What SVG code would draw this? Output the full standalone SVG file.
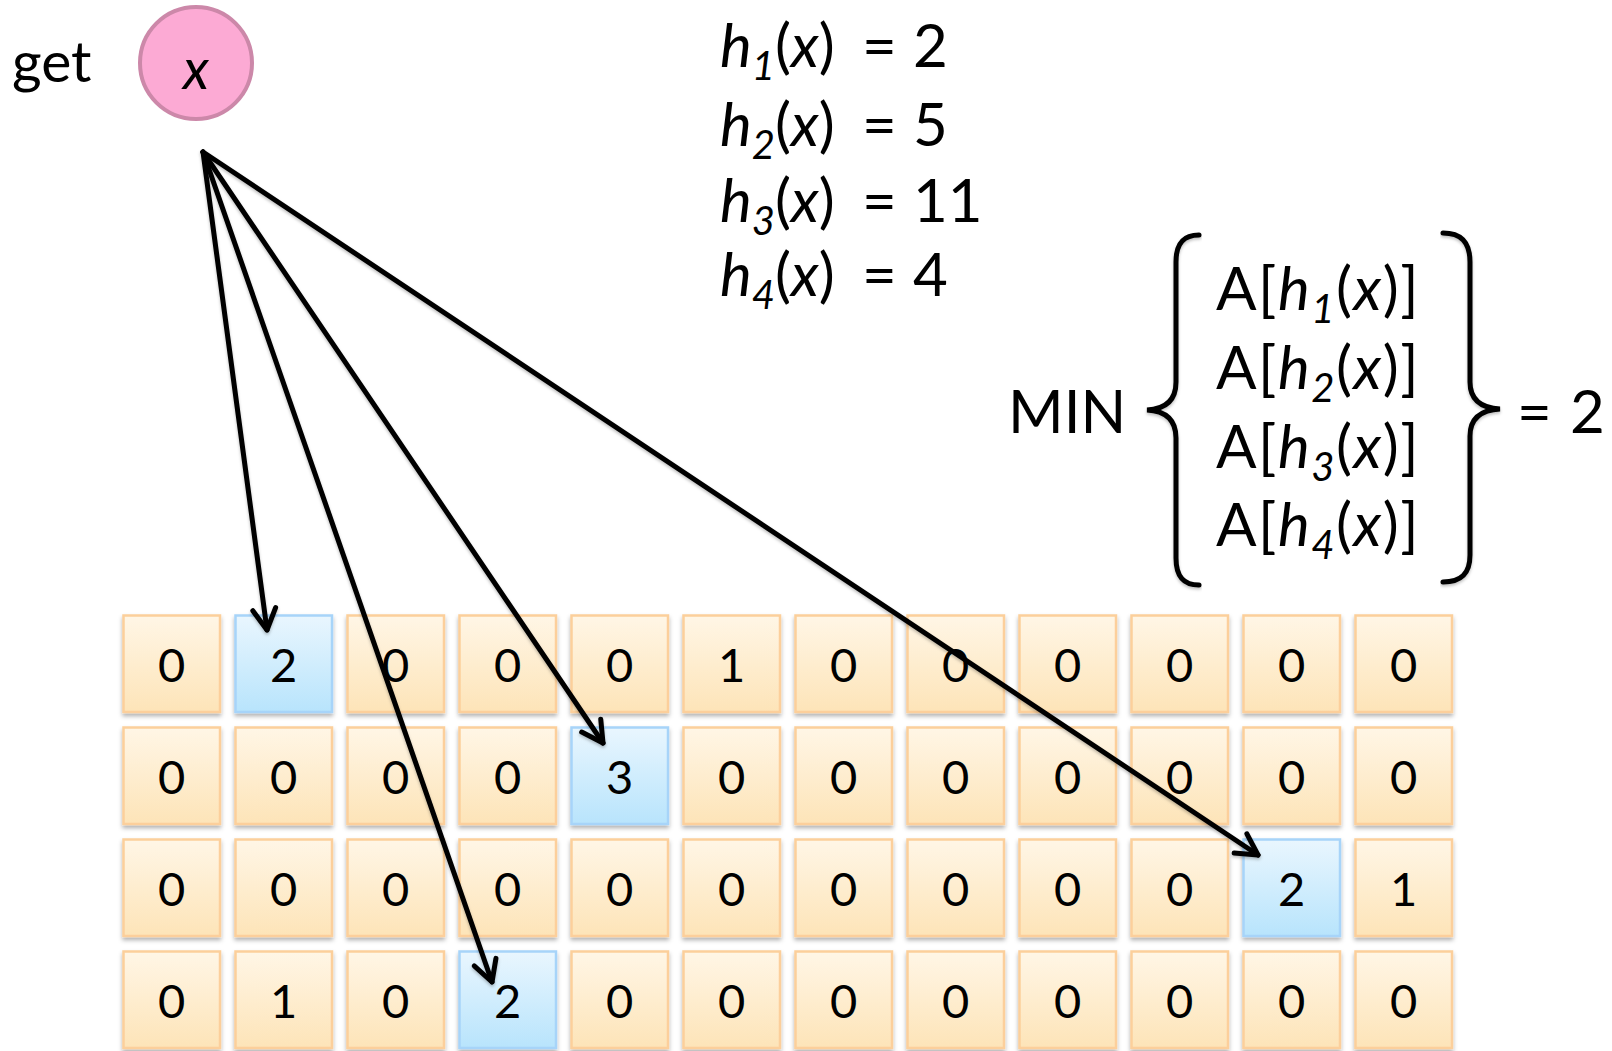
<svg xmlns="http://www.w3.org/2000/svg" width="1612" height="1051" viewBox="0 0 1612 1051">
<defs>
<linearGradient id="gOr" x1="0" y1="0" x2="0" y2="1"><stop offset="0" stop-color="#fff6e6"/><stop offset="1" stop-color="#fde4b8"/></linearGradient>
<linearGradient id="gBl" x1="0" y1="0" x2="0" y2="1"><stop offset="0" stop-color="#e9f6fe"/><stop offset="1" stop-color="#b8e4fc"/></linearGradient>
<filter id="sh" x="-20%" y="-20%" width="140%" height="150%"><feDropShadow dx="0" dy="3" stdDeviation="2" flood-color="#000" flood-opacity="0.3"/></filter>
<filter id="lsh" x="-5%" y="-5%" width="110%" height="110%"><feDropShadow dx="0" dy="2" stdDeviation="1.5" flood-color="#000" flood-opacity="0.25"/></filter>
<marker id="ah" markerUnits="userSpaceOnUse" markerWidth="40" markerHeight="40" viewBox="-30 -20 40 40" refX="0" refY="0" orient="auto" overflow="visible">
<path d="M-21,-11.5 L0,0 L-21,11.5" fill="none" stroke="#000" stroke-width="5" stroke-linecap="round" stroke-linejoin="round"/>
</marker>
</defs>
<style>
text{font-family:Lato,"Open Sans","Liberation Sans",sans-serif;fill:#000}
.cell{stroke-width:2.5;filter:url(#sh)}
.or{fill:url(#gOr);stroke:#fccf9b}
.bl{fill:url(#gBl);stroke:#a7d4f9}
.d{font-size:47px;text-anchor:middle}
.eq{font-size:60px}
.al{letter-spacing:1.5px}
.it{font-style:italic}
.sub{font-size:40px;font-style:italic}
.conn line{stroke:#000;stroke-width:5;stroke-linecap:round;marker-end:url(#ah)}
.brace{fill:none;stroke:#000;stroke-width:5;stroke-linecap:round;filter:url(#lsh)}
</style>
<rect width="1612" height="1051" fill="#fff"/>

<g id="get-label"><text x="12" y="82" style="font-size:57px">get</text></g>
<g id="node-x">
<circle cx="196" cy="63" r="56" fill="#fcaad4" stroke="#cc88a9" stroke-width="4"/>
<text x="196" y="89" class="it" style="font-size:56px" text-anchor="middle">x</text>
</g>

<g id="hash-values">
<text x="720" y="67" class="eq"><tspan class="it">h</tspan><tspan class="sub" dy="13">1</tspan><tspan dy="-13">(</tspan><tspan class="it">x</tspan>)<tspan x="862">=</tspan><tspan x="913">2</tspan></text>
<text x="720" y="146" class="eq"><tspan class="it">h</tspan><tspan class="sub" dy="13">2</tspan><tspan dy="-13">(</tspan><tspan class="it">x</tspan>)<tspan x="862">=</tspan><tspan x="913">5</tspan></text>
<text x="720" y="222" class="eq"><tspan class="it">h</tspan><tspan class="sub" dy="13">3</tspan><tspan dy="-13">(</tspan><tspan class="it">x</tspan>)<tspan x="862">=</tspan><tspan x="913">11</tspan></text>
<text x="720" y="296" class="eq"><tspan class="it">h</tspan><tspan class="sub" dy="13">4</tspan><tspan dy="-13">(</tspan><tspan class="it">x</tspan>)<tspan x="862">=</tspan><tspan x="913">4</tspan></text>
</g>

<g id="min-expr">
<text x="1008" y="433" class="eq">MIN</text>
<path class="brace" d="M1199,235 C1184,235 1176,243 1176,262 L1176,382 C1176,400 1166,409 1147,410 C1166,411 1176,420 1176,438 L1176,558 C1176,577 1184,585 1199,585"/>
<path class="brace" d="M1443,233 C1461,233 1470,242 1470,262 L1470,382 C1470,400 1481,408 1500,409 C1481,410 1470,418 1470,436 L1470,555 C1470,574 1461,582 1443,582"/>
<text x="1216" y="310" class="eq al">A[<tspan class="it">h</tspan><tspan class="sub" dy="13">1</tspan><tspan dy="-13">(</tspan><tspan class="it">x</tspan>)]</text>
<text x="1216" y="389" class="eq al">A[<tspan class="it">h</tspan><tspan class="sub" dy="13">2</tspan><tspan dy="-13">(</tspan><tspan class="it">x</tspan>)]</text>
<text x="1216" y="468" class="eq al">A[<tspan class="it">h</tspan><tspan class="sub" dy="13">3</tspan><tspan dy="-13">(</tspan><tspan class="it">x</tspan>)]</text>
<text x="1216" y="546" class="eq al">A[<tspan class="it">h</tspan><tspan class="sub" dy="13">4</tspan><tspan dy="-13">(</tspan><tspan class="it">x</tspan>)]</text>
<text x="1517" y="433" class="eq">=<tspan x="1570">2</tspan></text>
</g>

<g id="array">
<g id="row0">
<g id="c0-0"><rect class="cell or" x="123.5" y="615.5" width="96.5" height="96.5"/><text class="d" x="171.75" y="682">0</text></g>
<g id="c0-1"><rect class="cell bl" x="235.5" y="615.5" width="96.5" height="96.5"/><text class="d" x="283.75" y="682">2</text></g>
<g id="c0-2"><rect class="cell or" x="347.5" y="615.5" width="96.5" height="96.5"/><text class="d" x="395.75" y="682">0</text></g>
<g id="c0-3"><rect class="cell or" x="459.5" y="615.5" width="96.5" height="96.5"/><text class="d" x="507.75" y="682">0</text></g>
<g id="c0-4"><rect class="cell or" x="571.5" y="615.5" width="96.5" height="96.5"/><text class="d" x="619.75" y="682">0</text></g>
<g id="c0-5"><rect class="cell or" x="683.5" y="615.5" width="96.5" height="96.5"/><text class="d" x="731.75" y="682">1</text></g>
<g id="c0-6"><rect class="cell or" x="795.5" y="615.5" width="96.5" height="96.5"/><text class="d" x="843.75" y="682">0</text></g>
<g id="c0-7"><rect class="cell or" x="907.5" y="615.5" width="96.5" height="96.5"/><text class="d" x="955.75" y="682">0</text></g>
<g id="c0-8"><rect class="cell or" x="1019.5" y="615.5" width="96.5" height="96.5"/><text class="d" x="1067.75" y="682">0</text></g>
<g id="c0-9"><rect class="cell or" x="1131.5" y="615.5" width="96.5" height="96.5"/><text class="d" x="1179.75" y="682">0</text></g>
<g id="c0-10"><rect class="cell or" x="1243.5" y="615.5" width="96.5" height="96.5"/><text class="d" x="1291.75" y="682">0</text></g>
<g id="c0-11"><rect class="cell or" x="1355.5" y="615.5" width="96.5" height="96.5"/><text class="d" x="1403.75" y="682">0</text></g>
</g>
<g id="row1">
<g id="c1-0"><rect class="cell or" x="123.5" y="727.5" width="96.5" height="96.5"/><text class="d" x="171.75" y="794">0</text></g>
<g id="c1-1"><rect class="cell or" x="235.5" y="727.5" width="96.5" height="96.5"/><text class="d" x="283.75" y="794">0</text></g>
<g id="c1-2"><rect class="cell or" x="347.5" y="727.5" width="96.5" height="96.5"/><text class="d" x="395.75" y="794">0</text></g>
<g id="c1-3"><rect class="cell or" x="459.5" y="727.5" width="96.5" height="96.5"/><text class="d" x="507.75" y="794">0</text></g>
<g id="c1-4"><rect class="cell bl" x="571.5" y="727.5" width="96.5" height="96.5"/><text class="d" x="619.75" y="794">3</text></g>
<g id="c1-5"><rect class="cell or" x="683.5" y="727.5" width="96.5" height="96.5"/><text class="d" x="731.75" y="794">0</text></g>
<g id="c1-6"><rect class="cell or" x="795.5" y="727.5" width="96.5" height="96.5"/><text class="d" x="843.75" y="794">0</text></g>
<g id="c1-7"><rect class="cell or" x="907.5" y="727.5" width="96.5" height="96.5"/><text class="d" x="955.75" y="794">0</text></g>
<g id="c1-8"><rect class="cell or" x="1019.5" y="727.5" width="96.5" height="96.5"/><text class="d" x="1067.75" y="794">0</text></g>
<g id="c1-9"><rect class="cell or" x="1131.5" y="727.5" width="96.5" height="96.5"/><text class="d" x="1179.75" y="794">0</text></g>
<g id="c1-10"><rect class="cell or" x="1243.5" y="727.5" width="96.5" height="96.5"/><text class="d" x="1291.75" y="794">0</text></g>
<g id="c1-11"><rect class="cell or" x="1355.5" y="727.5" width="96.5" height="96.5"/><text class="d" x="1403.75" y="794">0</text></g>
</g>
<g id="row2">
<g id="c2-0"><rect class="cell or" x="123.5" y="839.5" width="96.5" height="96.5"/><text class="d" x="171.75" y="906">0</text></g>
<g id="c2-1"><rect class="cell or" x="235.5" y="839.5" width="96.5" height="96.5"/><text class="d" x="283.75" y="906">0</text></g>
<g id="c2-2"><rect class="cell or" x="347.5" y="839.5" width="96.5" height="96.5"/><text class="d" x="395.75" y="906">0</text></g>
<g id="c2-3"><rect class="cell or" x="459.5" y="839.5" width="96.5" height="96.5"/><text class="d" x="507.75" y="906">0</text></g>
<g id="c2-4"><rect class="cell or" x="571.5" y="839.5" width="96.5" height="96.5"/><text class="d" x="619.75" y="906">0</text></g>
<g id="c2-5"><rect class="cell or" x="683.5" y="839.5" width="96.5" height="96.5"/><text class="d" x="731.75" y="906">0</text></g>
<g id="c2-6"><rect class="cell or" x="795.5" y="839.5" width="96.5" height="96.5"/><text class="d" x="843.75" y="906">0</text></g>
<g id="c2-7"><rect class="cell or" x="907.5" y="839.5" width="96.5" height="96.5"/><text class="d" x="955.75" y="906">0</text></g>
<g id="c2-8"><rect class="cell or" x="1019.5" y="839.5" width="96.5" height="96.5"/><text class="d" x="1067.75" y="906">0</text></g>
<g id="c2-9"><rect class="cell or" x="1131.5" y="839.5" width="96.5" height="96.5"/><text class="d" x="1179.75" y="906">0</text></g>
<g id="c2-10"><rect class="cell bl" x="1243.5" y="839.5" width="96.5" height="96.5"/><text class="d" x="1291.75" y="906">2</text></g>
<g id="c2-11"><rect class="cell or" x="1355.5" y="839.5" width="96.5" height="96.5"/><text class="d" x="1403.75" y="906">1</text></g>
</g>
<g id="row3">
<g id="c3-0"><rect class="cell or" x="123.5" y="951.5" width="96.5" height="96.5"/><text class="d" x="171.75" y="1018">0</text></g>
<g id="c3-1"><rect class="cell or" x="235.5" y="951.5" width="96.5" height="96.5"/><text class="d" x="283.75" y="1018">1</text></g>
<g id="c3-2"><rect class="cell or" x="347.5" y="951.5" width="96.5" height="96.5"/><text class="d" x="395.75" y="1018">0</text></g>
<g id="c3-3"><rect class="cell bl" x="459.5" y="951.5" width="96.5" height="96.5"/><text class="d" x="507.75" y="1018">2</text></g>
<g id="c3-4"><rect class="cell or" x="571.5" y="951.5" width="96.5" height="96.5"/><text class="d" x="619.75" y="1018">0</text></g>
<g id="c3-5"><rect class="cell or" x="683.5" y="951.5" width="96.5" height="96.5"/><text class="d" x="731.75" y="1018">0</text></g>
<g id="c3-6"><rect class="cell or" x="795.5" y="951.5" width="96.5" height="96.5"/><text class="d" x="843.75" y="1018">0</text></g>
<g id="c3-7"><rect class="cell or" x="907.5" y="951.5" width="96.5" height="96.5"/><text class="d" x="955.75" y="1018">0</text></g>
<g id="c3-8"><rect class="cell or" x="1019.5" y="951.5" width="96.5" height="96.5"/><text class="d" x="1067.75" y="1018">0</text></g>
<g id="c3-9"><rect class="cell or" x="1131.5" y="951.5" width="96.5" height="96.5"/><text class="d" x="1179.75" y="1018">0</text></g>
<g id="c3-10"><rect class="cell or" x="1243.5" y="951.5" width="96.5" height="96.5"/><text class="d" x="1291.75" y="1018">0</text></g>
<g id="c3-11"><rect class="cell or" x="1355.5" y="951.5" width="96.5" height="96.5"/><text class="d" x="1403.75" y="1018">0</text></g>
</g>
</g>

<g id="connectors" class="conn" filter="url(#lsh)">
<line x1="203" y1="152" x2="267" y2="630"/>
<line x1="203" y1="152" x2="492" y2="982"/>
<line x1="203" y1="152" x2="603" y2="743"/>
<line x1="203" y1="152" x2="1258" y2="855"/>
</g>
</svg>
